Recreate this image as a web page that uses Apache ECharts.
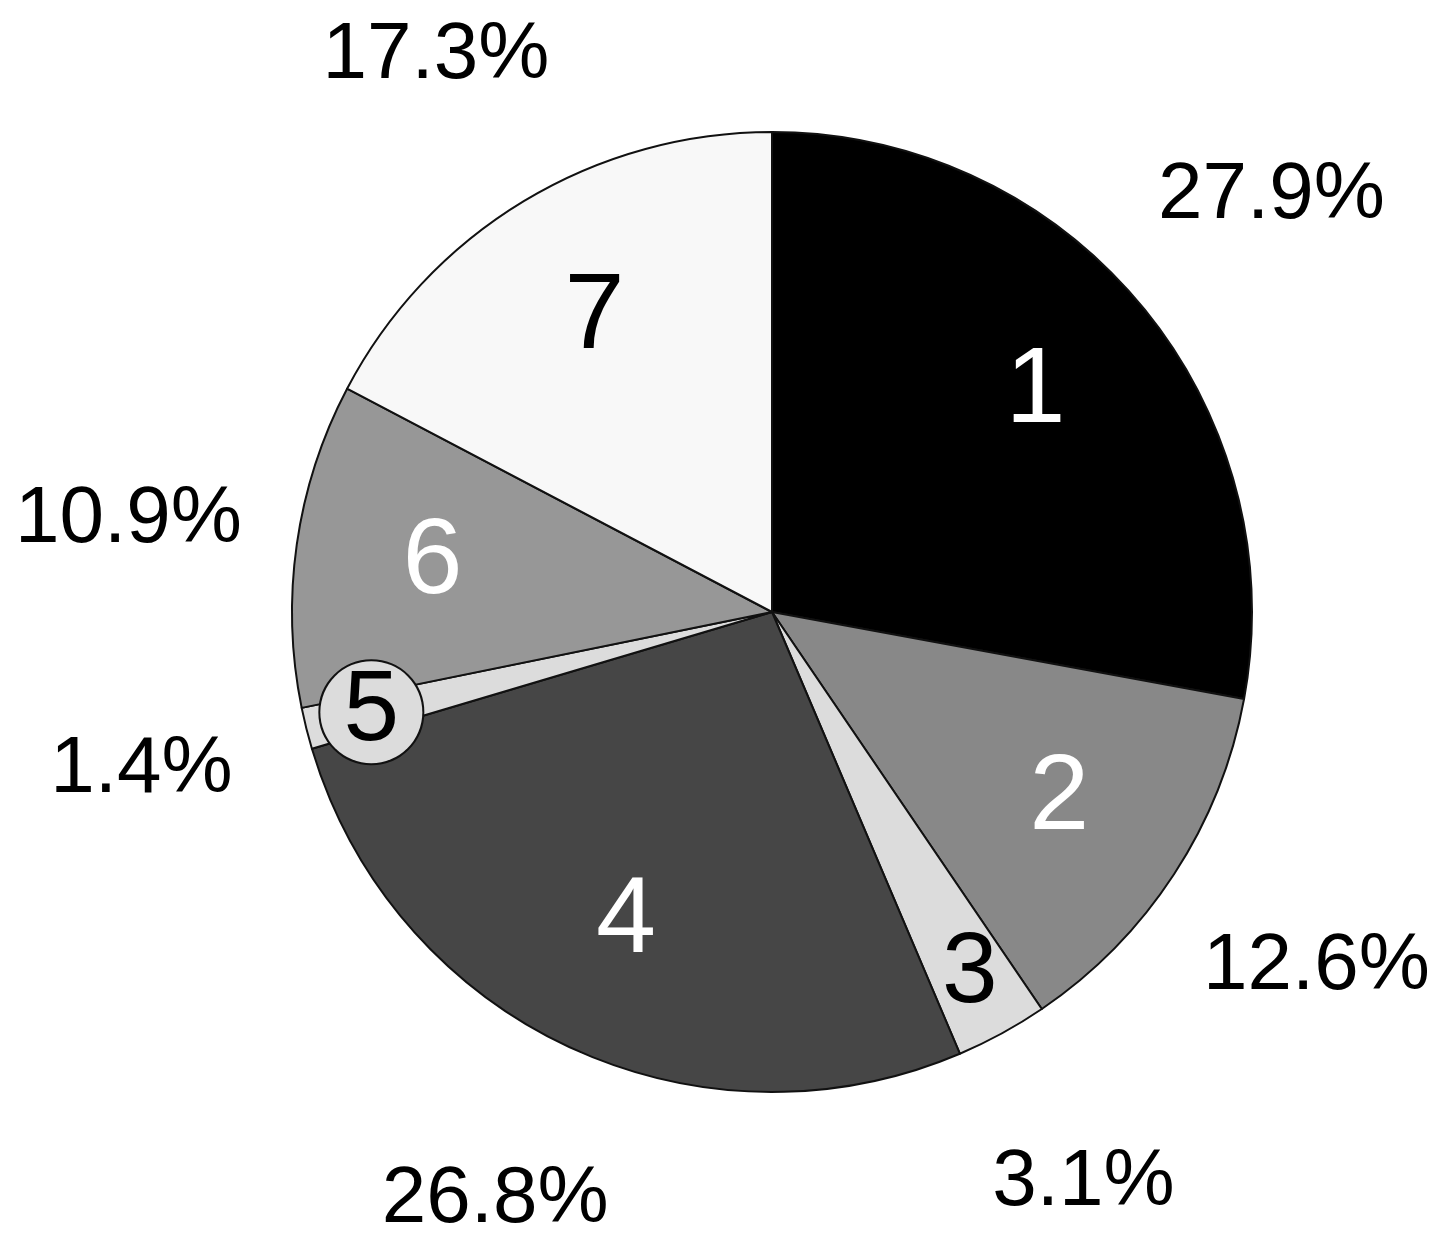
<!DOCTYPE html>
<html>
<head>
<meta charset="utf-8">
<script src="https://cdn.jsdelivr.net/npm/echarts@6/dist/echarts.min.js"></script>
<style>
html,body{margin:0;padding:0;background:#fff;}
#chart{width:1441px;height:1250px;}
</style>
</head>
<body>
<div id="chart"></div>
<script>
const categories = ['1','2','3','4','5','6','7'];
const values = [27.9, 12.6, 3.1, 26.8, 1.4, 10.9, 17.3];
const sliceColors = ['#000000','#888888','#dcdcdc','#464646','#dcdcdc','#979797','#f8f8f8'];
const labelColors = ['#ffffff','#ffffff','#000000','#ffffff','#000000','#ffffff','#000000'];

const FONT = 'Liberation Sans, Arial, Helvetica, sans-serif';
const CENTER = [772, 612];

const baseData = categories.map((c, i) => ({ name: c, value: values[i] }));

const common = {
  type: 'pie',
  center: CENTER,
  startAngle: 90,
  clockwise: true,
  silent: true,
  avoidLabelOverlap: false,
  emphasis: { disabled: true },
  labelLine: { show: false },
  animation: false
};

const option = {
  backgroundColor: '#ffffff',
  animation: false,
  series: [
    Object.assign({}, common, {
      radius: [0, 480],
      data: baseData.map((d, i) => ({
        name: d.name, value: d.value,
        itemStyle: { color: sliceColors[i], borderColor: '#111', borderWidth: 2 }
      })),
      label: { show: false }
    }),
    // big inside numbers
    Object.assign({}, common, {
      radius: [200, 480],
      itemStyle: { color: 'rgba(0,0,0,0)', borderWidth: 0 },
      data: baseData.map((d, i) => ({
        name: d.name, value: d.value,
        label: {
          show: !(i === 2 || i === 4),
          color: labelColors[i]
        }
      })),
      label: {
        position: 'inside',
        formatter: '{b}',
        fontFamily: FONT,
        fontSize: 108,
        padding: [16, 0, 0, 0]
      }
    }),
    // small slice numbers (3, 5)
    Object.assign({}, common, {
      radius: [340, 480],
      itemStyle: { color: 'rgba(0,0,0,0)', borderWidth: 0 },
      data: baseData.map((d, i) => ({
        name: d.name, value: d.value,
        label: (i === 4) ? {
          show: true,
          color: '#000',
          backgroundColor: '#dcdcdc',
          borderColor: '#111',
          borderWidth: 2,
          borderRadius: 52,
          width: 102,
          height: 102,
          lineHeight: 102,
          align: 'center',
          verticalAlign: 'middle',
          padding: 0
        } : { show: i === 2, color: '#000' }
      })),
      label: {
        position: 'inside',
        formatter: '{b}',
        fontFamily: FONT,
        fontSize: 100
      }
    }),
    // outside percentages
    Object.assign({}, common, {
      radius: [600, 694],
      itemStyle: { color: 'rgba(0,0,0,0)', borderWidth: 0 },
      data: baseData,
      label: {
        show: true,
        position: 'inside',
        formatter: '{c}%',
        color: '#000',
        fontFamily: FONT,
        fontSize: 80,
        padding: [10, 0, 0, 0]
      }
    })
  ]
};

const chart = echarts.init(document.getElementById('chart'), null, { renderer: 'canvas' });
chart.setOption(option);
</script>
</body>
</html>
